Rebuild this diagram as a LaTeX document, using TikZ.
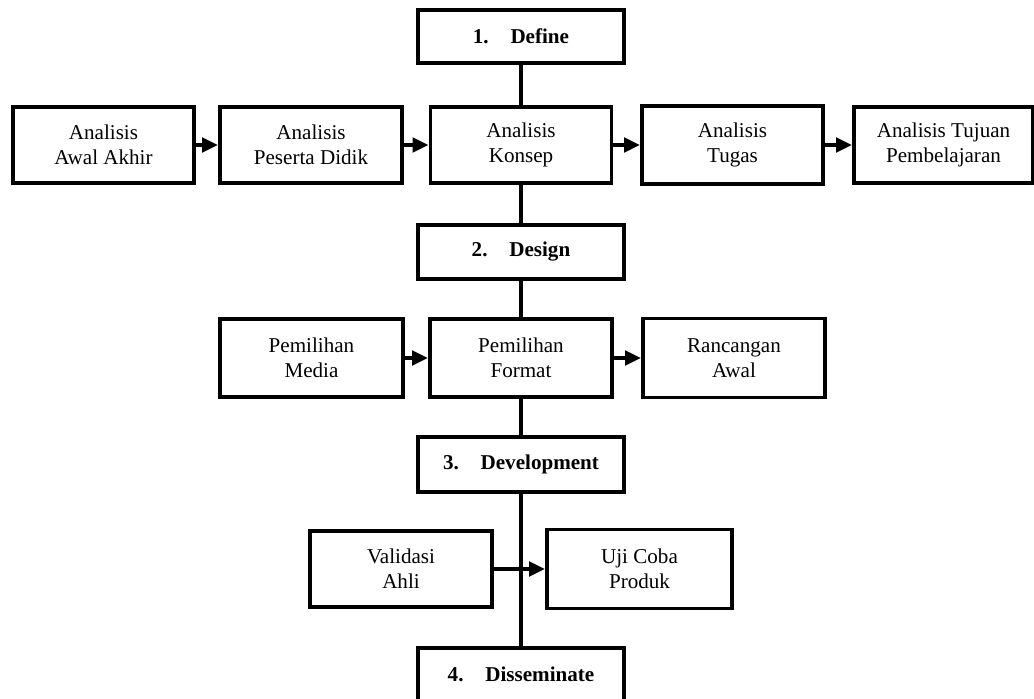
\documentclass[tikz,border=0pt]{standalone}
\usepackage{fontspec}
\setmainfont{Liberation Serif}
\usetikzlibrary{arrows.meta}

\begin{document}
\begin{tikzpicture}[line width=2.8pt,
		box/.style={draw, fill=white, align=center, inner sep=2pt, font=\fontsize{15pt}{17.8pt}\selectfont},
		phase/.style={box, font=\fontsize{15pt}{17.8pt}\selectfont\bfseries, minimum width=5.15cm},
		arr/.style={-{Triangle[length=0.4cm, width=0.36cm]}}]
			\useasboundingbox (0,0) rectangle (25.85,-17.475);
			\node[phase, minimum height=1.325cm] (define) at (13.025,-0.9125) {1.\hspace{15.5pt}Define};
			\node[box, minimum width=4.525cm, minimum height=1.9cm] (awal) at (2.5875,-3.625) {Analisis\\Awal Akhir};
			\node[box, minimum width=4.55cm, minimum height=1.9cm] (peserta) at (7.775,-3.625) {Analisis\\Peserta Didik};
			\node[box, minimum width=4.525cm, minimum height=1.9cm] (konsep) at (13.025,-3.625) {Analisis\\Konsep};
			\node[box, minimum width=4.525cm, minimum height=1.95cm] (tugas) at (18.3125,-3.625) {Analisis\\Tugas};
			\node[box, minimum width=4.475cm, minimum height=1.9cm] (tujuan) at (23.5875,-3.625) {Analisis Tujuan\\Pembelajaran};
			\node[phase, minimum height=1.35cm] (design) at (13.025,-6.3) {2.\hspace{15.5pt}Design};
			\node[box, minimum width=4.575cm, minimum height=1.95cm] (media) at (7.7875,-8.95) {Pemilihan\\Media};
			\node[box, minimum width=4.55cm, minimum height=1.95cm] (format) at (13.025,-8.95) {Pemilihan\\Format};
			\node[box, minimum width=4.55cm, minimum height=1.975cm] (rancangan) at (18.35,-8.95) {Rancangan\\Awal};
			\node[phase, minimum height=1.375cm] (devel) at (13.025,-11.6125) {3.\hspace{15.5pt}Development};
			\node[box, minimum width=4.55cm, minimum height=1.9cm] (validasi) at (10.025,-14.225) {Validasi\\Ahli};
			\node[box, minimum width=4.625cm, minimum height=1.975cm] (uji) at (15.9875,-14.225) {Uji Coba\\Produk};
			\node[phase, minimum height=1.325cm] (dissem) at (13.025,-16.8625) {4.\hspace{15.5pt}Disseminate};
			\draw (define) -- (konsep);
			\draw (konsep) -- (design);
			\draw (design) -- (format);
			\draw (format) -- (devel);
			\draw (devel) -- (dissem);
			\draw[arr] (awal) -- (peserta);
			\draw[arr] (peserta) -- (konsep);
			\draw[arr] (konsep) -- (tugas);
			\draw[arr] (tugas) -- (tujuan);
			\draw[arr] (media) -- (format);
			\draw[arr] (format) -- (rancangan);
			\draw[arr] (validasi) -- (uji);
		\end{tikzpicture}
\end{document}
